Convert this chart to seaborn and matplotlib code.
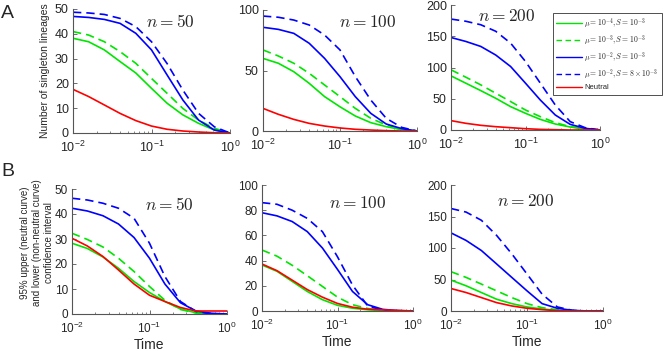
import numpy as np
import pandas as pd
import seaborn as sns
import matplotlib.pyplot as plt
from matplotlib.lines import Line2D

# time grid (0.2 decade steps from 1e-2 to 1e0)
time = [0.01, 0.0158, 0.0251, 0.0398, 0.0631, 0.1, 0.158, 0.251, 0.398, 0.631, 1.0]

series_labels = [r'$\mu=10^{-4}, S=10^{-3}$', r'$\mu=10^{-3}, S=10^{-3}$',
                 r'$\mu=10^{-2}, S=10^{-3}$', r'$\mu=10^{-2}, S=8\times10^{-3}$', 'Neutral']
sample_sizes = [50, 100, 200]

# panel A: number of singleton lineages
a50 = {
    'g_solid': [38.2, 36.8, 33.5, 28.8, 24.2, 18.0, 12.0, 7.3, 3.9, 1.2, 0],
    'g_dash': [40.9, 39.5, 36.8, 32.8, 28.1, 22.0, 16.0, 9.9, 5.2, 1.9, 0],
    'b_solid': [47.0, 46.6, 45.8, 44.2, 40.2, 33.5, 23.4, 13.3, 5.2, 1.2, 0],
    'b_dash': [48.7, 48.4, 47.8, 46.2, 42.9, 36.8, 28.0, 17.3, 7.9, 2.5, 0],
    'neutral': [17.6, 14.7, 11.3, 7.9, 5.0, 2.8, 1.5, 0.8, 0.4, 0.1, 0],
}
a100 = {
    'g_solid': [60, 56, 49, 39.4, 28.4, 20, 12.4, 6.9, 3.6, 1.1, 0],
    'g_dash': [67, 62, 56, 47.7, 38, 28.4, 18.7, 10.5, 5, 1.7, 0],
    'b_solid': [85.7, 84, 80.7, 72.5, 60, 44.9, 28.4, 14.6, 5.8, 2, 0],
    'b_dash': [95, 94, 91.7, 87.6, 79.3, 67, 45, 25.6, 10.5, 3, 0],
    'neutral': [18.7, 13.8, 9.6, 6.3, 4.1, 2.5, 1.4, 0.8, 0.3, 0, 0],
}
a200 = {
    'g_solid': [86.6, 74.9, 63, 50.8, 37.4, 26.7, 17, 9.6, 4.8, 1.6, 0],
    'g_dash': [96.3, 84.5, 72.2, 58.8, 45.5, 32, 21.4, 11.8, 5.3, 2, 0],
    'b_solid': [148, 141.7, 133.7, 120, 101.6, 74.9, 48, 24, 9, 2.7, 0],
    'b_dash': [177.5, 174, 168.4, 158, 139, 109.6, 75, 40, 13.4, 3.7, 0],
    'neutral': [15, 10.7, 7.5, 5.3, 3.7, 2.1, 1, 0.5, 0, 0, 0],
}

# panel B: 95% confidence bounds
b50 = {
    'g_solid': [28.3, 26.2, 22.8, 18.3, 13, 8.6, 5, 2, 0.5, 0, 0],
    'g_dash': [32.3, 29.8, 26.8, 22.3, 17, 11, 5.5, 1.8, 0.4, 0, 0],
    'b_solid': [42.3, 41.2, 39.3, 36, 30.6, 22.3, 12, 4.5, 1.2, 0.3, 0],
    'b_dash': [46.3, 45.6, 44.3, 42.3, 38.3, 28.3, 15, 5, 1, 0, 0],
    'neutral': [30.3, 27.2, 23, 17.6, 12, 7.5, 5, 2.6, 1.2, 1.2, 1.2],
}
b100 = {
    'g_solid': [36.5, 31.5, 23.5, 15.5, 9, 4.5, 2.2, 1, 0.4, 0, 0],
    'g_dash': [48.4, 43.5, 36.3, 28, 19.5, 11, 5, 2, 0.5, 0, 0],
    'b_solid': [78, 75.5, 71, 63, 50, 33, 15.5, 5, 1.3, 0.3, 0],
    'b_dash': [86, 84.7, 80, 73.5, 63, 43, 20.6, 4, 0.5, 0, 0],
    'neutral': [37.3, 32, 24.5, 17, 11, 6, 3, 1.4, 0.9, 0.5, 0],
}
b200 = {
    'g_solid': [49, 40, 29.3, 18.7, 11.7, 6.4, 3.2, 1, 0, 0, 0],
    'g_dash': [62.4, 53.3, 42.7, 32, 21.3, 11.7, 5.3, 2, 0.5, 0, 0],
    'b_solid': [124, 112, 96, 74.7, 53.3, 32, 11.7, 4.3, 1, 0, 0],
    'b_dash': [162.7, 157, 144, 120, 90.7, 58.7, 26.7, 6.4, 1, 0, 0],
    'neutral': [35.7, 29.3, 21.3, 13.3, 8, 4.3, 2.1, 0.5, 0, 0, 0],
}

styles = {
    'g_solid': ('#00e600', '-'),
    'g_dash': ('#00e600', '--'),
    'b_solid': ('#0000ff', '-'),
    'b_dash': ('#0000ff', '--'),
    'neutral': ('#ff0000', '-'),
}
order = ['g_solid', 'g_dash', 'b_solid', 'b_dash', 'neutral']

sns.set_style("ticks")
plt.rcParams['font.family'] = ['Liberation Sans', 'DejaVu Sans']
plt.rcParams['mathtext.fontset'] = 'cm'

W, H = 670, 351
fig = plt.figure(figsize=(6.7, 3.51), dpi=100)


def rect(l, r, t, b):
    return [l / W, (H - b) / H, (r - l) / W, (b - t) / H]


panels = [
    (a50, rect(73, 230, 9, 133), [0, 10, 20, 30, 40, 50], 50, (0.62, 0.90)),
    (a100, rect(263, 417, 10, 131), [0, 50, 100], 100, (0.68, 0.90)),
    (a200, rect(451, 600, 5, 130), [0, 50, 100, 150, 200], 200, (0.37, 0.91)),
    (b50, rect(72, 227, 189, 314), [0, 10, 20, 30, 40, 50], 50, (0.63, 0.88)),
    (b100, rect(262, 413, 185, 311), [0, 20, 40, 60, 80, 100], 100, (0.63, 0.86)),
    (b200, rect(451, 603, 185, 311), [0, 50, 100, 150, 200], 200, (0.49, 0.87)),
]

for i, (data, r, yt, n, tpos) in enumerate(panels):
    ax = fig.add_axes(r)
    for key in order:
        c, ls = styles[key]
        sns.lineplot(x=time, y=data[key], ax=ax, color=c, linestyle=ls, lw=1.2)
        ax.lines[-1].set_dashes((5, 3) if ls == '--' else ())
    ax.set_xscale('log')
    ax.set_xlim(0.01, 1)
    ax.set_ylim(0, yt[-1])
    ax.set_yticks(yt)
    ax.set_xticks([0.01, 0.1, 1])
    sns.despine(ax=ax)
    for s in ['left', 'bottom']:
        ax.spines[s].set_color('#555555')
        ax.spines[s].set_linewidth(0.8)
    ax.tick_params(direction='in', labelsize=9 if i < 3 else 8.5, length=3,
                   width=0.6, color='#555555', pad=3)
    ax.tick_params(axis='x', pad=5)
    ax.tick_params(which='minor', direction='in', length=1.5, width=0.5, color='#555555')
    ax.text(tpos[0], tpos[1], rf'$n = {n}$', transform=ax.transAxes,
            ha='center', va='center', fontsize=12.5)
    if i >= 3:
        ax.set_xlabel('Time', fontsize=10, labelpad=1)
    if i == 2:
        handles = [Line2D([], [], color=styles[k][0], lw=1.0,
                          dashes=(4, 2.5) if styles[k][1] == '--' else ())
                   for k in order]
        leg = ax.legend(handles, series_labels, loc='upper left',
                        bbox_to_anchor=(553 / W, 1 - 13 / H),
                        bbox_transform=fig.transFigure, fontsize=5.5,
                        handlelength=3.4, labelspacing=0.3, borderpad=0.4,
                        handletextpad=0.3, borderaxespad=0, fancybox=False,
                        framealpha=1)
        leg.get_frame().set_edgecolor('#333333')
        leg.get_frame().set_linewidth(0.6)

fig.text(45 / W, 1 - 71 / H, 'Number of singleton lineages', rotation=90,
         ha='center', va='center', fontsize=7.5)
fig.text(37 / W, 1 - 243 / H,
         '95% upper (neutral curve)\nand lower (non-neutral curve)\nconfidence interval',
         rotation=90, ha='center', va='center', fontsize=7, linespacing=1.3)
fig.text(1 / W, 1 - 13 / H, 'A', fontsize=14, va='center', ha='left')
fig.text(1 / W, 1 - 172 / H, 'B', fontsize=14, va='center', ha='left')

fig.savefig('out.png', dpi=100)
